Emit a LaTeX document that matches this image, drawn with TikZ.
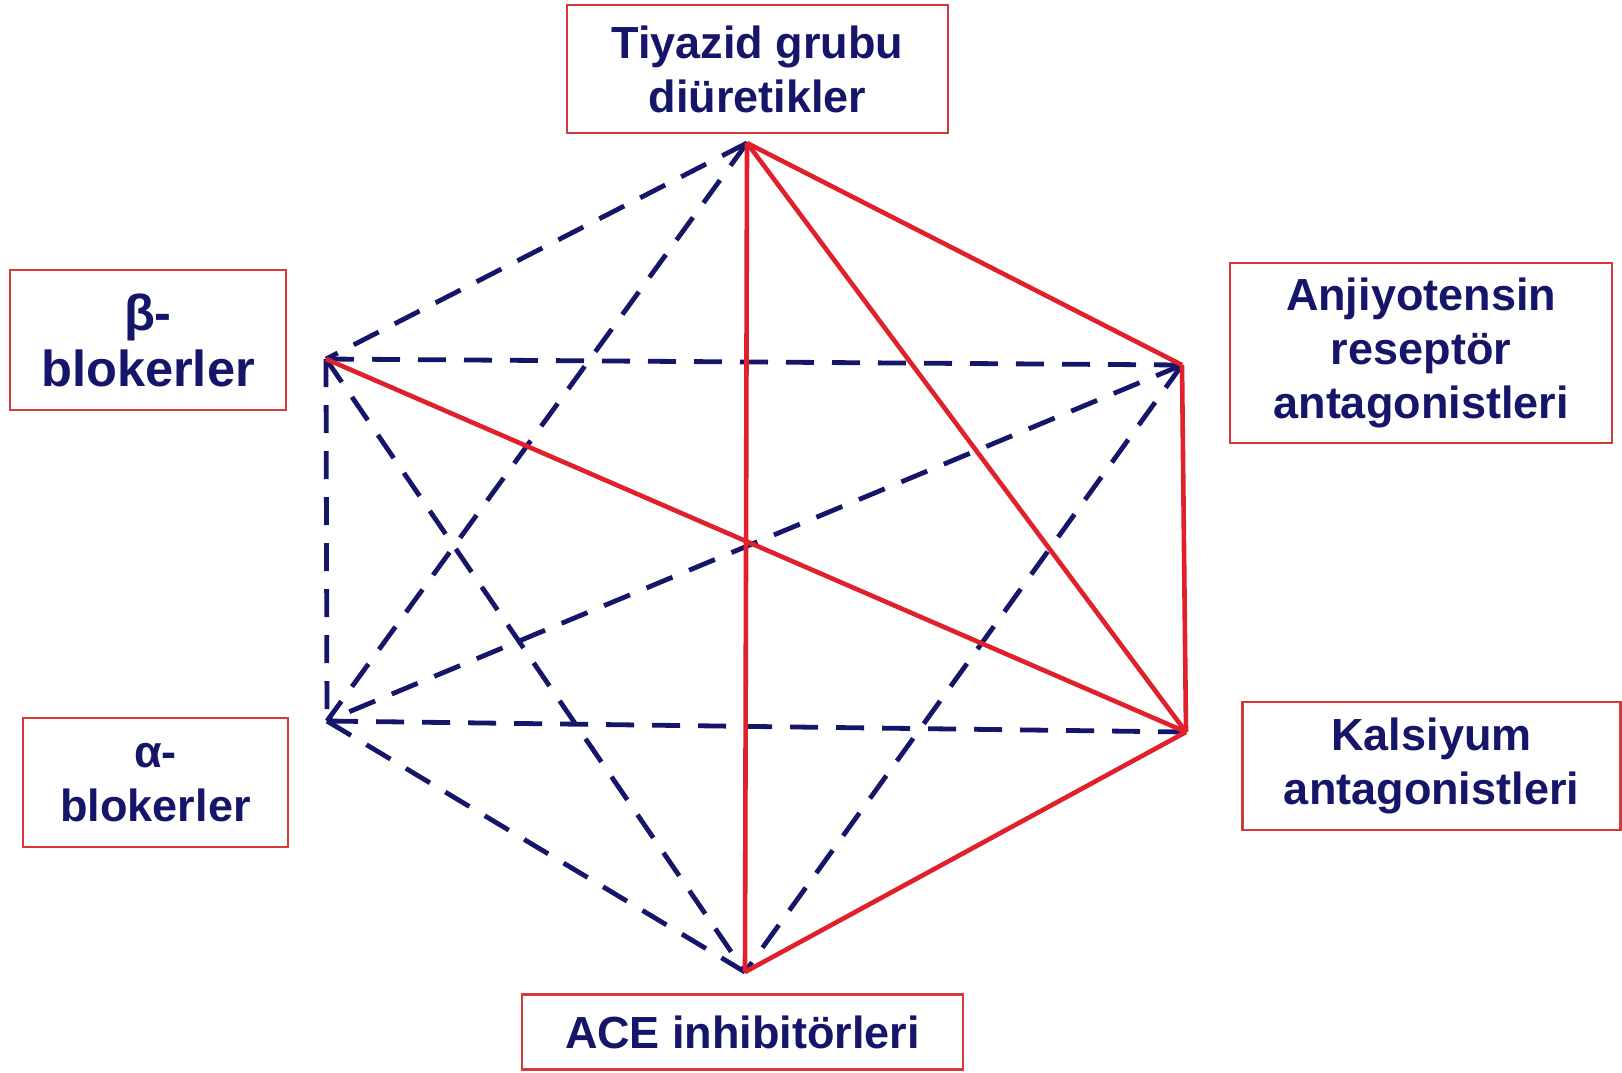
\documentclass[tikz,border=0pt]{standalone}
\usepackage{fontspec}
\setmainfont{Liberation Sans}
\definecolor{navy}{HTML}{15156A}
\definecolor{lred}{HTML}{E0202A}
\definecolor{boxred}{HTML}{D23A3A}
\begin{document}
\begin{tikzpicture}[x=0.5pt,y=-0.5pt,
  lbl/.style={draw=boxred,line width=1.1pt,fill=white,inner sep=0pt,align=center,
    text=navy,font=\fontsize{22.5}{27}\selectfont\bfseries},
  bluel/.style={draw=navy,line width=2.4pt,dash pattern=on 14pt off 9pt},
  redl/.style={draw=lred,line width=2.3pt,line join=round}]
\useasboundingbox (0,0) rectangle (1622,1072);
% boxes
\node[lbl,minimum width=190.5pt,minimum height=64pt] (tiy) at (757.5,69) {Tiyazid grubu\\diüretikler};
\node[lbl,minimum width=138pt,minimum height=70pt,font=\fontsize{25.3}{28}\selectfont\bfseries] (beta) at (148,340) {β-\\blokerler};
\node[lbl,minimum width=132.5pt,minimum height=64.5pt] (alfa) at (155.5,782.5) {α-\\blokerler};
\node[lbl,minimum width=191pt,minimum height=90pt] (anj) at (1421,353) {Anjiyotensin\\reseptör\\antagonistleri};
\node[lbl,minimum width=189pt,minimum height=64pt] (kal) at (1431.5,766) {Kalsiyum\\antagonistleri};
\node[lbl,minimum width=220.5pt,minimum height=37.5pt] (ace) at (742.5,1032) {ACE inhibitörleri};
% vertices
\coordinate (T) at (747,143);
\coordinate (L1) at (326,359);
\coordinate (L2) at (327,721);
\coordinate (R1) at (1182,365);
\coordinate (R2) at (1186,732);
\coordinate (B) at (745,972);
% blue dashed
\draw[bluel] (T) -- (L1);
\draw[bluel] (T) -- (L2);
\draw[bluel] (L1) -- (R1);
\draw[bluel] (L1) -- (L2);
\draw[bluel] (L1) -- (B);
\draw[bluel] (R1) -- (L2);
\draw[bluel] (R1) -- (B);
\draw[bluel] (R2) -- (L2);
\draw[bluel] (L2) -- (B);
% red solid
\draw[redl] (T) -- (B);
\draw[redl] (T) -- (R1);
\draw[redl] (T) -- (R2);
\draw[redl] (R1) -- (R2);
\draw[redl] (R2) -- (B);
\draw[redl] (R2) -- (L1);
\end{tikzpicture}
\end{document}
